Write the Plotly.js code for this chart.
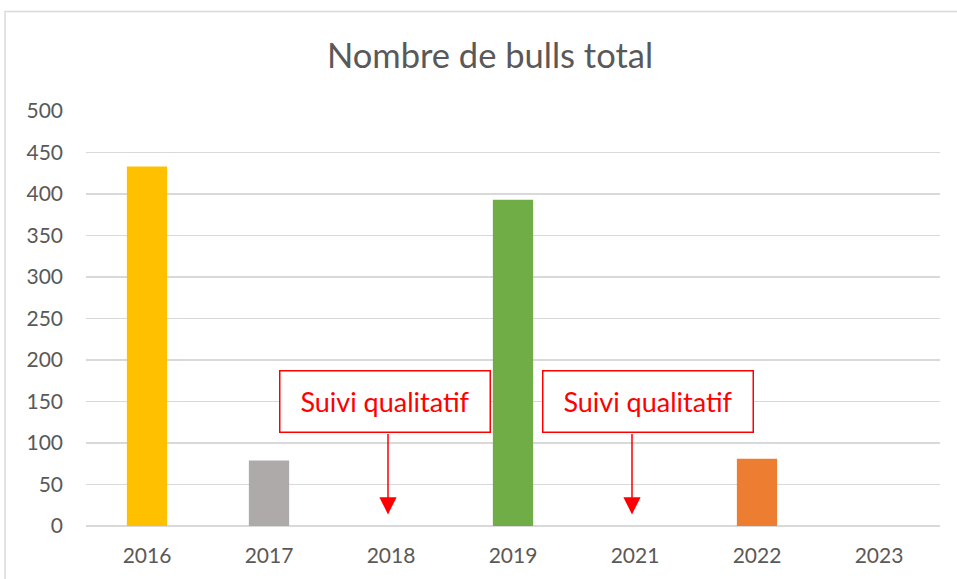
<!DOCTYPE html>
<html>
<head>
<meta charset="utf-8">
<script src="https://cdn.plot.ly/plotly-3.0.1.min.js"></script>
<style>
html,body{margin:0;padding:0;background:#fff;}
#chart{width:957px;height:579px;}
</style>
</head>
<body>
<div id="chart"></div>
<script>
const years = ['2016', '2017', '2018', '2019', '2021', '2022', '2023'];
const bulls = [433, 79, 0, 393, 0, 81, 0];
const barColors = ['#FFC000', '#AEAAAA', '#A5A5A5', '#70AD47', '#4472C4', '#ED7D31', '#5B9BD5'];
const noteYears = ['2018', '2021'];
const noteText = 'Suivi qualitatif';
const noteTipValue = 14;
const noteBoxValue = 150;

const annotations = [];
noteYears.forEach(function (yr, i) {
  const xi = years.indexOf(yr);
  // arrow only
  annotations.push({
    x: xi, y: noteTipValue, xref: 'x', yref: 'y',
    text: '', showarrow: true,
    arrowhead: 2, arrowsize: 2.3, arrowwidth: 1.5, arrowcolor: '#FF0000',
    ax: 0, ay: -82, xshift: -3
  });
  // text box
  annotations.push({
    x: xi, y: noteBoxValue, xref: 'x', yref: 'y',
    text: noteText, showarrow: false,
    xanchor: 'center', yanchor: 'middle',
    xshift: i === 0 ? -6 : 13,
    font: {family: 'Lato, sans-serif', size: 27, color: '#FF0000'},
    bordercolor: '#FF0000', borderwidth: 1.5, borderpad: 2,
    bgcolor: '#FFFFFF',
    width: 205, height: 56
  });
});

const trace = {
  type: 'bar',
  x: years,
  y: bulls,
  marker: {color: barColors, line: {width: 0}},
  hoverinfo: 'x+y'
};

const layout = {
  width: 957, height: 579,
  margin: {l: 86, r: 17, t: 111, b: 53},
  paper_bgcolor: '#FFFFFF', plot_bgcolor: '#FFFFFF',
  font: {family: 'Lato, sans-serif', color: '#595959', size: 21},
  title: {text: 'Nombre de bulls total', font: {family: 'Lato, sans-serif', size: 34.5, color: '#595959'}, x: 0.512, xanchor: 'center', y: 0.903, yanchor: 'middle'},
  bargap: 0.67,
  showlegend: false,
  xaxis: {type: 'category', range: [-0.5, years.length - 0.5], autorange: false, showgrid: false, showline: false, ticks: '', ticklabelstandoff: 15, tickfont: {size: 21, color: '#595959'}, fixedrange: true},
  yaxis: {range: [0, 500], autorange: false, dtick: 50, tick0: 0, showgrid: true, gridcolor: '#D9D9D9', gridwidth: 1.5, zeroline: true, zerolinecolor: '#D9D9D9', zerolinewidth: 1.5, showline: false, ticks: '', ticklabelstandoff: 22, tickfont: {size: 21, color: '#595959'}, fixedrange: true},
  annotations: annotations,
  shapes: [{type: 'rect', xref: 'paper', yref: 'paper', x0: -0.0948, x1: 1.03, y0: -0.15, y1: 1.240, line: {color: '#D9D9D9', width: 1.5}, layer: 'below'}]
};

Plotly.newPlot('chart', [trace], layout, {displayModeBar: false, staticPlot: true});
</script>
</body>
</html>
